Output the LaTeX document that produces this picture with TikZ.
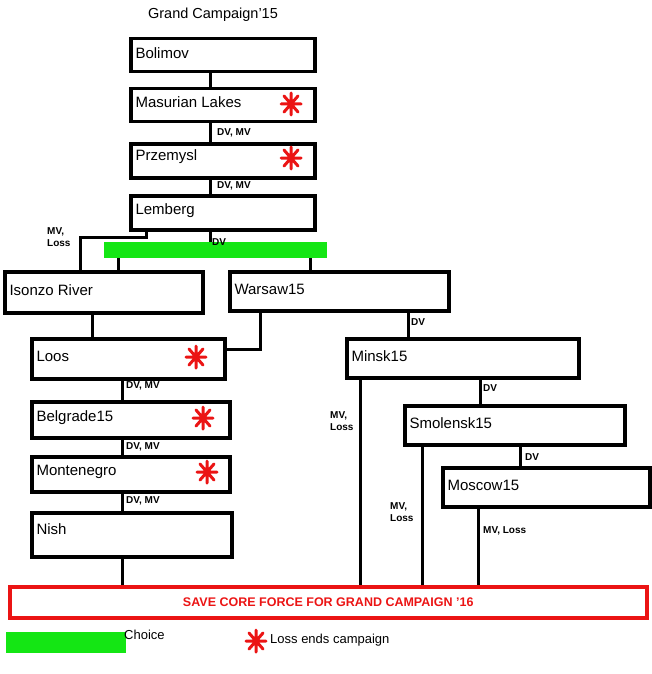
\documentclass[tikz,border=0pt]{standalone}
\usepackage{fontspec}
\setmainfont{Liberation Sans}
\usetikzlibrary{positioning, calc}
\definecolor{gcRed}{RGB}{235,20,20}
\definecolor{gcGreen}{RGB}{20,230,20}

\begin{document}
\begin{tikzpicture}[
        x=1pt, y=-1pt,
        bx/.style={draw, line width=3.5pt, anchor=north west, inner sep=0pt},
        bt/.style={font=\fontsize{15}{17}\selectfont, anchor=west},
        lk/.style={line width=3pt},
        lb/.style={font=\fontsize{10}{11.5}\selectfont\bfseries, align=left, inner sep=1pt},
        boom/.pic={\draw[gcRed, line width=3pt, line cap=round] (-10,0) -- (10,0) (0,-11) -- (0,11) (-7,-8) -- (7,8) (-7,8) -- (7,-8);}
      ]
        \useasboundingbox (0,0) rectangle (652,674);
        \node[font=\fontsize{14.5}{17}\selectfont] (title) at (213,15) {Grand Campaign'15};
        % boxes
        \node[bx, minimum width=184, minimum height=33] (bol) at (129,37) {};
        \node[bx, minimum width=184, minimum height=33] (mas) at (129,87) {};
        \node[bx, minimum width=184, minimum height=34] (prz) at (129,142) {};
        \node[bx, minimum width=184, minimum height=34] (lem) at (129,194) {};
        \node[fill=gcGreen, minimum width=223, minimum height=16, inner sep=0pt, anchor=north west] (bar) at (104,242) {};
        \node[bx, minimum width=198, minimum height=41] (iso) at (3,270) {};
        \node[bx, minimum width=219, minimum height=39] (war) at (228,270) {};
        \node[bx, minimum width=193, minimum height=40] (loo) at (30,337) {};
        \node[bx, minimum width=232, minimum height=39] (min) at (345,337) {};
        \node[bx, minimum width=198, minimum height=36] (bel) at (30,400) {};
        \node[bx, minimum width=220, minimum height=39] (smo) at (403,404) {};
        \node[bx, minimum width=198, minimum height=35] (mon) at (30,455) {};
        \node[bx, minimum width=207, minimum height=39] (mos) at (441,466) {};
        \node[bx, minimum width=200, minimum height=44] (nis) at (30,511) {};
        \node[draw=gcRed, line width=3.5pt, minimum width=637, minimum height=31, inner sep=0pt, anchor=north west,
              text=gcRed, font=\fontsize{12.5}{14}\selectfont\bfseries] (save) at (8,585) {SAVE CORE FORCE FOR GRAND CAMPAIGN '16};
        % box texts
        \foreach \n/\t/\dy in {bol/Bolimov/-2, mas/Masurian Lakes/-3, prz/Przemysl/-4, lem/Lemberg/-2, iso/Isonzo River/-2, war/Warsaw15/-2,
                              loo/Loos/-2, min/Minsk15/-2, bel/Belgrade15/-2, smo/Smolensk15/-2, mon/Montenegro/-2, mos/Moscow15/-2, nis/Nish/-6}
          \node[bt] at ($(\n.west)+(3,\dy)$) {\t};
        % connectors
        \draw[lk] (bol.south -| 210,0) -- (mas.north -| 210,0);
        \draw[lk] (mas.south -| 210,0) -- (prz.north -| 210,0);
        \draw[lk] (prz.south -| 210,0) -- (lem.north -| 210,0);
        \draw[lk] (lem.south -| 210,0) -- (bar.north -| 210,0);
        \draw[lk] (lem.south -| 146,0) -- (146,237) -- (80,237) -- (iso.north -| 80,0);
        \draw[lk] (bar.south -| 118,0) -- (iso.north -| 118,0);
        \draw[lk] (bar.south -| 310,0) -- (war.north -| 310,0);
        \draw[lk] (iso.south -| 92,0) -- (loo.north -| 92,0);
        \draw[lk] (war.south -| 260,0) -- (260,349) -- (loo.east |- 0,349);
        \draw[lk] (war.south -| 408,0) -- (min.north -| 408,0);
        \draw[lk] (loo.south -| 122,0) -- (bel.north -| 122,0);
        \draw[lk] (bel.south -| 122,0) -- (mon.north -| 122,0);
        \draw[lk] (mon.south -| 122,0) -- (nis.north -| 122,0);
        \draw[lk] (nis.south -| 122,0) -- (save.north -| 122,0);
        \draw[lk] (min.south -| 480,0) -- (smo.north -| 480,0);
        \draw[lk] (smo.south -| 520,0) -- (mos.north -| 520,0);
        \draw[lk] (min.south -| 360,0) -- (save.north -| 360,0);
        \draw[lk] (smo.south -| 422,0) -- (save.north -| 422,0);
        \draw[lk] (mos.south -| 478,0) -- (save.north -| 478,0);
        % labels
        \node[lb, anchor=west] at (216,133) {DV, MV};
        \node[lb, anchor=west] at (216,186) {DV, MV};
        \node[lb, anchor=west] at (211,242) {DV};
        \node[lb, anchor=west] at (46,237) {MV,\\Loss};
        \node[lb, anchor=west] at (410,322) {DV};
        \node[lb, anchor=west] at (125,386) {DV, MV};
        \node[lb, anchor=west] at (125,447) {DV, MV};
        \node[lb, anchor=west] at (125,501) {DV, MV};
        \node[lb, anchor=west] at (482,388) {DV};
        \node[lb, anchor=west] at (524,457) {DV};
        \node[lb, anchor=west] at (329,421) {MV,\\Loss};
        \node[lb, anchor=west] at (389,512) {MV,\\Loss};
        \node[lb, anchor=west] at (482,531) {MV, Loss};
        % loss marks
        \foreach \x/\y in {291/104, 291/158, 196/357, 203/418, 207/472, 256/641}
          \pic at (\x,\y) {boom};
        % legend
        \node[fill=gcGreen, minimum width=120, minimum height=21, inner sep=0pt, anchor=north west] (key) at (6,632) {};
        \node[font=\fontsize{13}{15}\selectfont, anchor=west, inner sep=0pt] (keyt) at (124,635) {Choice};
        \node[font=\fontsize{13}{15}\selectfont, anchor=west, inner sep=0pt] (losst) at (270,640) {Loss ends campaign};
      \end{tikzpicture}
\end{document}
